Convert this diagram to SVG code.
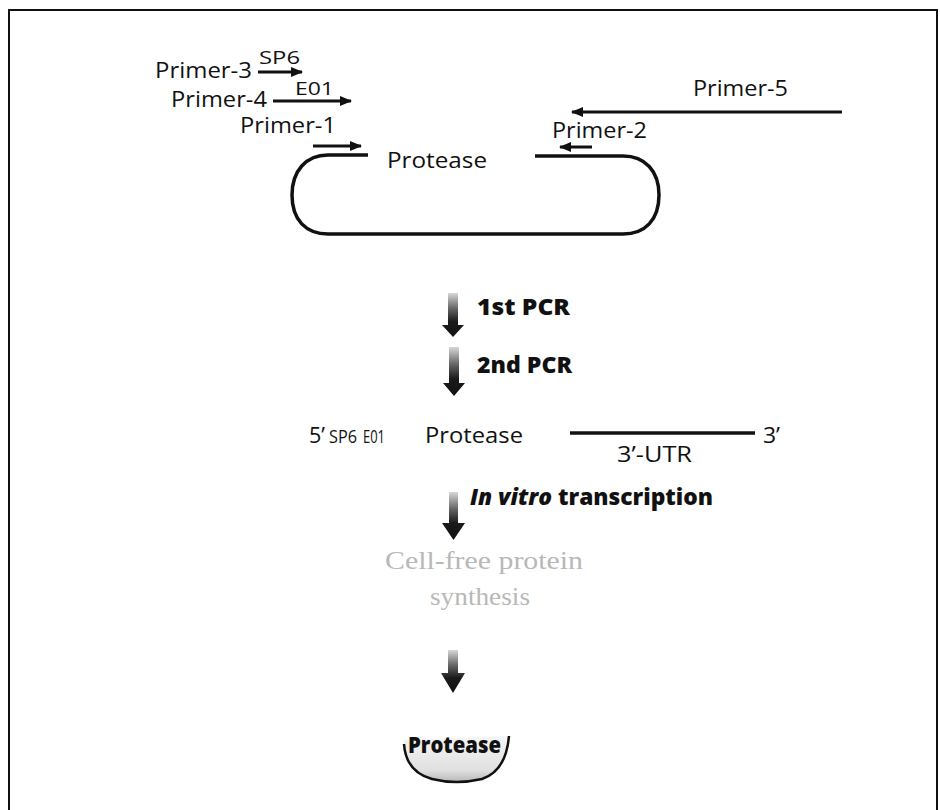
<svg xmlns="http://www.w3.org/2000/svg" width="940" height="810" viewBox="0 0 940 810">
<style>
  .lbl{font-family:"Open Sans","Noto Sans",sans-serif;font-weight:500;font-size:22px;fill:#111}
  .sm{font-family:"Open Sans","Noto Sans",sans-serif;font-weight:500;font-size:19px;fill:#111}
  .bold{font-family:"Open Sans","Noto Sans",sans-serif;font-weight:800;font-size:22px;fill:#111}
  .faded{font-family:"Liberation Serif","DejaVu Serif",serif;font-size:26px;fill:#b8b8b8}
  .pr{stroke:#111;stroke-width:3;fill:none;marker-end:url(#ah)}
  .dna{stroke:#111;stroke-width:3.5;fill:none}
  .blk{fill:url(#gArrow)}
</style>
<defs>
  <marker id="ah" markerUnits="userSpaceOnUse" markerWidth="12" markerHeight="10" refX="11" refY="5" orient="auto">
    <path d="M0,0 L12,5 L0,10 z" fill="#111"/>
  </marker>
  <linearGradient id="gArrow" x1="0" y1="0" x2="0" y2="1">
    <stop offset="0" stop-color="#d8d8d8"/>
    <stop offset="0.35" stop-color="#666"/>
    <stop offset="0.65" stop-color="#1a1a1a"/>
    <stop offset="1" stop-color="#111"/>
  </linearGradient>
  <linearGradient id="gBowl" x1="0" y1="0" x2="0" y2="1">
    <stop offset="0" stop-color="#f6f6f6"/>
    <stop offset="0.75" stop-color="#e0e0e0"/>
    <stop offset="1" stop-color="#b8b8b8"/>
  </linearGradient>
</defs>

<rect width="940" height="810" fill="#fff"/>
<path d="M9,812 V10 H937 V812" fill="none" stroke="#111" stroke-width="2"/>

<g id="plasmid">
  <path class="dna" d="M368,155 H328 C306,155 292,171 292,195 C292,220 306,234 328,234 H623 C645,234 659,220 659,195 C659,171 645,156 623,156 H535"/>
  <text class="lbl" x="387" y="168" textLength="100" lengthAdjust="spacingAndGlyphs">Protease</text>
</g>

<g id="primer-3">
  <text class="lbl" x="155" y="78" textLength="97" lengthAdjust="spacingAndGlyphs">Primer-3</text>
  <text class="sm" x="259" y="64" textLength="41" lengthAdjust="spacingAndGlyphs">SP6</text>
</g>
<g id="primer-4">
  <text class="lbl" x="171" y="107" textLength="96" lengthAdjust="spacingAndGlyphs">Primer-4</text>
  <text class="sm" x="295" y="95" textLength="39" lengthAdjust="spacingAndGlyphs">E01</text>
</g>
<g id="primer-1">
  <text class="lbl" x="240" y="133" textLength="96" lengthAdjust="spacingAndGlyphs">Primer-1</text>
</g>
<g id="primer-5">
  <text class="lbl" x="693" y="96" textLength="95" lengthAdjust="spacingAndGlyphs">Primer-5</text>
</g>
<g id="primer-2">
  <text class="lbl" x="552" y="138" textLength="95" lengthAdjust="spacingAndGlyphs">Primer-2</text>
</g>

<g id="connectors">
  <line class="pr" x1="258" y1="72" x2="302" y2="72"/>
  <line class="pr" x1="273" y1="101" x2="351" y2="101"/>
  <line class="pr" x1="313" y1="146" x2="361" y2="146"/>
  <line class="pr" x1="842" y1="112" x2="572" y2="112"/>
  <line class="pr" x1="592" y1="147" x2="560" y2="147"/>
  <polygon class="blk" points="448,293 458,293 458,325 464,325 453,337 442,325 448,325"/>
  <polygon class="blk" points="449,347 459,347 459,383 465,383 454,396 443,383 449,383"/>
  <polygon class="blk" points="449,492 458,492 458,523 465,523 453.5,540 442,523 449,523"/>
  <polygon class="blk" points="448,650 458,650 458,673 465,673 453,693 441,673 448,673"/>
</g>

<g id="step-1st-pcr">
  <text class="bold" x="477" y="315" textLength="93" lengthAdjust="spacingAndGlyphs">1st PCR</text>
</g>
<g id="step-2nd-pcr">
  <text class="bold" x="477" y="373" textLength="95" lengthAdjust="spacingAndGlyphs">2nd PCR</text>
</g>

<g id="construct">
  <text class="lbl" x="309" y="443" textLength="16" lengthAdjust="spacingAndGlyphs">5’</text>
  <text class="sm" x="329" y="443" font-size="15" textLength="28" lengthAdjust="spacingAndGlyphs">SP6</text>
  <text class="sm" x="363" y="443" font-size="15" textLength="22" lengthAdjust="spacingAndGlyphs">E01</text>
  <text class="lbl" x="425" y="443" textLength="98" lengthAdjust="spacingAndGlyphs">Protease</text>
  <line x1="570" y1="433" x2="755" y2="433" stroke="#111" stroke-width="3.5"/>
  <text class="lbl" x="763" y="443" textLength="17" lengthAdjust="spacingAndGlyphs">3’</text>
  <text class="lbl" x="617" y="462" textLength="75" lengthAdjust="spacingAndGlyphs">3’-UTR</text>
</g>

<g id="step-transcription">
  <text class="bold" x="470" y="505" textLength="243" lengthAdjust="spacingAndGlyphs"><tspan font-style="italic">In vitro</tspan> transcription</text>
</g>

<g id="step-cellfree">
  <text class="faded" x="385" y="569" textLength="198" lengthAdjust="spacingAndGlyphs">Cell-free protein</text>
  <text class="faded" x="430" y="605" textLength="100" lengthAdjust="spacingAndGlyphs">synthesis</text>
</g>

<g id="product">
  <path d="M404,740 Q402,770 430,778 Q455,785 482,779 Q508,771 509,736 Z" fill="url(#gBowl)"/>
  <path d="M404,744 Q406,772 432,779 Q456,785 482,779 Q506,771 509,736" fill="none" stroke="#111" stroke-width="2.5"/>
  <text class="bold" x="408" y="753" font-size="21" font-weight="700" textLength="93" lengthAdjust="spacingAndGlyphs">Protease</text>
</g>
</svg>
